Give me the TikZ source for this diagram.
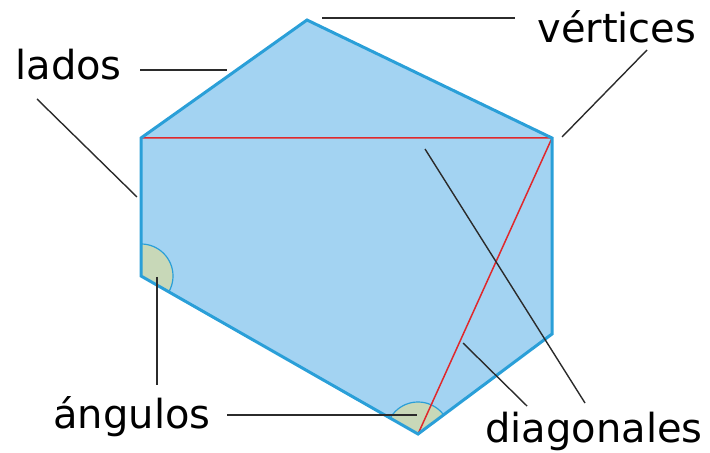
\documentclass[tikz,border=0pt]{standalone}
\usepackage{fontspec}
\setmainfont{DejaVu Sans}
\usepackage{xcolor}
\usepackage{tikz}
\usetikzlibrary{positioning}
\definecolor{hexFill}{HTML}{A3D3F2}
\definecolor{hexEdge}{HTML}{2A9FD8}
\definecolor{diagRed}{HTML}{E0282C}
\definecolor{angFill}{HTML}{C8D8B8}
\definecolor{leadGray}{HTML}{2B2B2B}

\begin{document}
\begin{tikzpicture}[x=0.5pt, y=-0.5pt,
    lbl/.style={font=\fontsize{20}{24}\selectfont, inner sep=0pt, anchor=base west},
    leader/.style={leadGray, line width=0.7pt},
    hexline/.style={hexEdge, line width=1.5pt, line join=miter},
    diagline/.style={diagRed, line width=0.75pt},
    wedge/.style={fill=angFill, draw=hexEdge, line width=0.6pt}]
    \useasboundingbox (0,0) rectangle (710,453);
    % Hexagon corners
    \coordinate (vTop) at (307,20);
    \coordinate (vRt)  at (552,138);
    \coordinate (vRb)  at (552,334);
    \coordinate (vBot) at (418,434);
    \coordinate (vLb)  at (141,276);
    \coordinate (vLt)  at (141,138);
    % Body
    \fill[hexFill] (vTop) -- (vRt) -- (vRb) -- (vBot) -- (vLb) -- (vLt) -- cycle;
    % Angles (circles cut by the hexagon)
    \begin{scope}
      \clip (vTop) -- (vRt) -- (vRb) -- (vBot) -- (vLb) -- (vLt) -- cycle;
      \draw[wedge] (vLb) circle[radius=32];
      \draw[wedge] (vBot) circle[radius=32];
    \end{scope}
    % Diagonals
    \draw[diagline] (vLt) -- (vRt) -- (vBot);
    % Sides
    \draw[hexline] (vTop) -- (vRt) -- (vRb) -- (vBot) -- (vLb) -- (vLt) -- cycle;
    % Labels
    \node[lbl] (vertices)   at (537,43)  {vértices};
    \node[lbl] (lados)      at (15,80)   {lados};
    \node[lbl] (angulos)    at (53,428)  {ángulos};
    \node[lbl] (diagonales) at (485,442) {diagonales};
    % Leader ends
    \coordinate (verA) at (322,18);  \coordinate (verB) at (515,18);
    \coordinate (verC) at (647,50);  \coordinate (verD) at (562,137);
    \coordinate (ladA) at (140,70);  \coordinate (ladB) at (227,70);
    \coordinate (ladC) at (37,99);   \coordinate (ladD) at (137,197);
    \coordinate (angA) at (157,277); \coordinate (angB) at (157,385);
    \coordinate (angC) at (227,415); \coordinate (angD) at (417,415);
    \coordinate (diaA) at (463,343); \coordinate (diaB) at (527,406);
    \coordinate (diaC) at (425,149); \coordinate (diaD) at (585,403);
    % Leader lines
    \foreach \a/\b in {verA/verB, verC/verD, ladA/ladB, ladC/ladD,
                       angA/angB, angC/angD, diaA/diaB, diaC/diaD}
      \draw[leader] (\a) -- (\b);
\end{tikzpicture}
\end{document}
